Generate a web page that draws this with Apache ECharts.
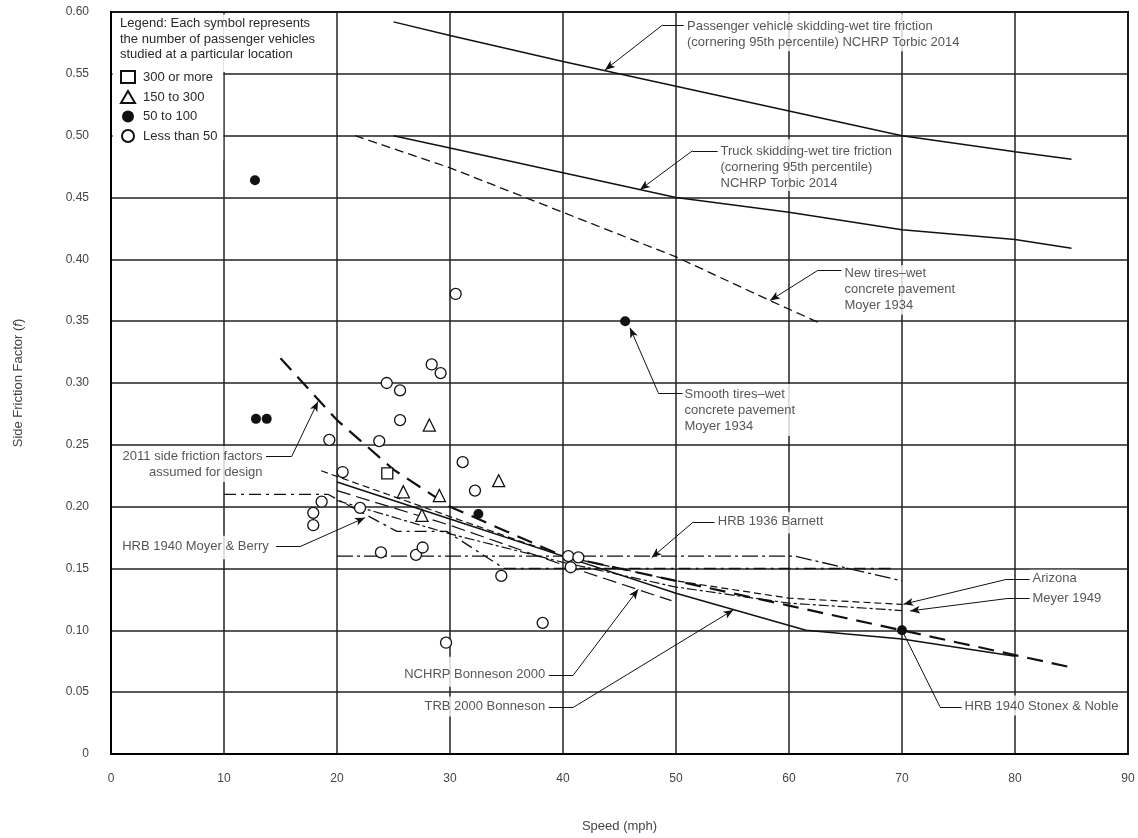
<!DOCTYPE html>
<html><head><meta charset="utf-8">
<script src="https://cdn.jsdelivr.net/npm/echarts@6/dist/echarts.min.js"></script>
<style>html,body{margin:0;padding:0;background:#fff}#c{width:1138px;height:838px}</style>
</head><body><div id="c"></div>
<script>
// ---------------- data (speed mph, side friction factor f) ----------------
const passengerTorbic2014 = [[25,0.592],[30,0.581],[40,0.560],[50,0.540],[60,0.520],[70,0.500],[80,0.487],[85,0.481]];
const truckTorbic2014 = [[25,0.500],[30,0.490],[40,0.470],[50,0.450],[60,0.438],[70,0.424],[80,0.416],[85,0.409]];
const newTiresMoyer1934 = [[21.6,0.500],[30,0.474],[40,0.438],[50,0.402],[58,0.368],[62.6,0.349]];
const design2011 = [[15,0.32],[20,0.27],[25,0.23],[30,0.20],[35,0.18],[40,0.16],[45,0.15],[50,0.14],[55,0.13],[60,0.12],[65,0.11],[70,0.10],[75,0.09],[80,0.08],[85,0.07]];
const trbBonneson2000 = [[20,0.220],[30,0.190],[40,0.160],[50,0.130],[61.5,0.100],[70,0.093],[80,0.079]];
const nchrpBonneson2000 = [[20,0.213],[30,0.185],[40,0.153],[49.6,0.124]];
const arizona = [[18.6,0.229],[30,0.192],[40,0.160],[50,0.140],[60,0.126],[70,0.121]];
const meyer1949 = [[20,0.205],[30,0.178],[40,0.155],[50,0.135],[60,0.122],[70,0.116]];
const moyerBerry1940 = [[10,0.21],[19.2,0.21],[25.3,0.18],[29.7,0.18],[34.8,0.15],[69,0.15]];
const barnett1936 = [[20,0.16],[60.5,0.16],[70,0.14]];

const pts300OrMore = [[24.45,0.227]];
const pts150to300 = [[28.17,0.266],[25.87,0.212],[29.06,0.209],[34.31,0.221],[27.52,0.193]];
const pts50to100 = [[12.74,0.464],[12.83,0.271],[13.78,0.271],[32.51,0.194]];
const ptsLessThan50 = [[30.50,0.372],[28.38,0.315],[29.17,0.308],[24.40,0.300],[25.58,0.294],[25.58,0.270],
  [19.32,0.254],[23.74,0.253],[31.12,0.236],[20.50,0.228],[32.21,0.213],[18.64,0.204],[17.90,0.195],
  [17.90,0.185],[22.04,0.199],[23.89,0.163],[26.99,0.161],[27.58,0.167],[34.54,0.144],[38.20,0.106],
  [29.65,0.090],[40.47,0.160],[41.36,0.159],[40.68,0.151]];
const smoothTiresMoyer1934 = [[45.5,0.350]];
const stonexNoble1940 = [[70,0.100]];

// ---------------- annotations (anchor in data units) ----------------
const annotations = [
  {text:'Passenger vehicle skidding-wet tire friction\n(cornering 95th percentile) NCHRP Torbic 2014', at:[50.71,0.5984], align:'left', pad:[4.7,4,1,3.5]},
  {text:'Truck skidding-wet tire friction\n(cornering 95th percentile)\nNCHRP Torbic 2014', at:[53.72,0.4966], align:'left', pad:[3.7,2,0,3]},
  {text:'New tires\u2013wet\nconcrete pavement\nMoyer 1934', at:[64.69,0.3949], align:'left', pad:[0.5,3,1,3]},
  {text:'Smooth tires\u2013wet\nconcrete pavement\nMoyer 1934', at:[50.62,0.2988], align:'left', pad:[2,3,2,2]},
  {text:'2011 side friction factors\nassumed for design', at:[13.72,0.2487], align:'right', pad:[2,3,2,3]},
  {text:'HRB 1940 Moyer & Berry', at:[0.77,0.1760], align:'left', pad:[2.3,3,5,3]},
  {text:'HRB 1936 Barnett', at:[53.45,0.1954], align:'left', pad:[1.7,3,4,3.3]},
  {text:'Arizona', at:[81.33,0.1486], align:'left', pad:[1,3,1,3]},
  {text:'Meyer 1949', at:[81.33,0.1332], align:'left', pad:[1.3,3,1,3]},
  {text:'HRB 1940 Stonex & Noble', at:[75.31,0.0468], align:'left', pad:[2.7,3,1.3,3]},
  {text:'NCHRP Bonneson 2000', at:[38.73,0.0783], align:'right', pad:[10,3,4,3]},
  {text:'TRB 2000 Bonneson', at:[38.73,0.0460], align:'right', pad:[2.3,3,1.7,3]}
];
const leaders = [
  {pts:[[50.71,0.5895],[48.81,0.5895],[43.72,0.5532]], arrow:true},
  {pts:[[53.72,0.4878],[51.46,0.4878],[46.81,0.4563]], arrow:true},
  {pts:[[64.69,0.3909],[62.52,0.3909],[58.32,0.3667]], arrow:true},
  {pts:[[50.62,0.2921],[48.43,0.2921],[45.93,0.3446]], arrow:true},
  {pts:[[13.72,0.2406],[15.99,0.2406],[18.32,0.2851]], arrow:true},
  {pts:[[14.60,0.1677],[16.73,0.1677],[22.48,0.1911]], arrow:true},
  {pts:[[53.45,0.1876],[51.53,0.1876],[47.85,0.1588]], arrow:true},
  {pts:[[81.33,0.1413],[79.29,0.1413],[70.12,0.1211]], arrow:true},
  {pts:[[81.33,0.1257],[79.29,0.1257],[70.71,0.1157]], arrow:true},
  {pts:[[75.31,0.0382],[73.36,0.0382],[70.0,0.1000]], arrow:false},
  {pts:[[38.73,0.0638],[40.91,0.0638],[46.66,0.1332]], arrow:true},
  {pts:[[38.73,0.0377],[40.91,0.0377],[55.07,0.1165]], arrow:true}
];

// ---------------- chart ----------------
const FONT = '"Liberation Sans", Arial, Helvetica, sans-serif';
const TXT = '#2a2a2a';
const INK = '#111';

function curve(name, data, dash, width) {
  return {name, type:'line', data, symbol:'none', showSymbol:false, silent:true, z:3,
    lineStyle:{color:INK, width:width, type:dash}, emphasis:{disabled:true}};
}
function pts(name, data, symbol, size, filled) {
  return {name, type:'scatter', data, symbol, symbolSize:size, silent:true, z:4,
    itemStyle:{color: filled ? INK : '#fff', borderColor:INK, borderWidth: filled ? 0 : 1.3, opacity:1},
    emphasis:{disabled:true}};
}

const markLineData = [];
leaders.forEach(l => {
  markLineData.push([{coord:l.pts[0], symbol:'none'}, {coord:l.pts[1], symbol:'none'}]);
  markLineData.push([{coord:l.pts[1], symbol:'none'}, {coord:l.pts[2], symbol: l.arrow ? 'arrow' : 'none', symbolSize:[6,10]}]);
});

const annotationSeries = {
  name:'annotations', type:'scatter', z:6, silent:true, symbolSize:1,
  itemStyle:{color:'rgba(0,0,0,0)'},
  data: annotations.map(a => ({
    value:a.at,
    label:{show:true, position:[0,0], align:a.align, verticalAlign:'top', formatter:a.text,
      fontSize:13, lineHeight:16, fontFamily:FONT, color:TXT, backgroundColor:'#fff', padding:a.pad}
  })),
  markLine:{silent:true, animation:false, symbol:['none','none'], label:{show:false},
    lineStyle:{color:INK, width:1, type:'solid'}, emphasis:{disabled:true}, data:markLineData},
  markArea:{silent:true, itemStyle:{color:'#fff', borderWidth:0}, label:{show:false},
    data:[[{coord:[0.15,0.598]},{coord:[9.93,0.48]}],[{coord:[9.93,0.598]},{coord:[19.9,0.5515]}]]}
};

const option = {
  animation:false,
  backgroundColor:'#fff',
  title:{text:'Legend: Each symbol represents\nthe number of passenger vehicles\nstudied at a particular location',
    left:112, top:13, padding:[3,0,0,8],
    textStyle:{fontSize:13, fontWeight:'normal', color:TXT, lineHeight:15.5, fontFamily:FONT}},
  legend:{orient:'vertical', left:120, top:70, itemWidth:14, itemHeight:12, itemGap:6, padding:0,
    selectedMode:false, data:['300 or more','150 to 300','50 to 100','Less than 50'],
    textStyle:{fontSize:13, color:TXT, fontFamily:FONT, padding:[0,0,0,3]}},
  grid:{left:111, top:12, right:10, bottom:83, show:true, borderColor:'#000', borderWidth:2, backgroundColor:'rgba(0,0,0,0)'},
  xAxis:{type:'value', min:0, max:90, interval:10,
    axisLine:{show:true, lineStyle:{color:'#000', width:2}}, axisTick:{show:false},
    axisLabel:{margin:19, fontSize:12, color:'#444', fontFamily:FONT},
    splitLine:{show:true, lineStyle:{color:'#222', width:1.5}},
    name:'Speed (mph)', nameLocation:'middle', nameGap:66,
    nameTextStyle:{fontSize:13, color:'#444', fontFamily:FONT}},
  yAxis:{type:'value', min:0, max:0.6, interval:0.05,
    axisLine:{show:true, lineStyle:{color:'#000', width:2}}, axisTick:{show:false},
    axisLabel:{margin:22, fontSize:12, color:'#444', fontFamily:FONT,
      formatter: v => (Math.abs(v) < 1e-9 ? '0' : v.toFixed(2))},
    splitLine:{show:true, lineStyle:{color:'#222', width:1.5}},
    name:'{n|Side Friction Factor (}{i|f}{n|)}', nameLocation:'middle', nameGap:86,
    nameTextStyle:{rich:{n:{fontSize:13, color:'#444', fontFamily:FONT}, i:{fontSize:13, color:'#444', fontStyle:'italic', fontFamily:FONT}}}},
  series:[
    curve('Passenger Torbic 2014', passengerTorbic2014, 'solid', 1.5),
    curve('Truck Torbic 2014', truckTorbic2014, 'solid', 1.5),
    curve('New tires Moyer 1934', newTiresMoyer1934, [9,5], 1.3),
    curve('2011 design', design2011, [16,9], 2.2),
    curve('TRB 2000 Bonneson', trbBonneson2000, 'solid', 1.5),
    curve('NCHRP Bonneson 2000', nchrpBonneson2000, [14,6], 1.2),
    curve('Arizona', arizona, [7,4], 1.2),
    curve('Meyer 1949', meyer1949, [10,3,3,3], 1.2),
    curve('HRB 1940 Moyer & Berry', moyerBerry1940, [12,5,3,5], 1.3),
    curve('HRB 1936 Barnett', barnett1936, [16,4,3,4], 1.3),
    pts('300 or more', pts300OrMore, 'rect', 11, false),
    pts('150 to 300', pts150to300, 'triangle', 12, false),
    pts('50 to 100', pts50to100, 'circle', 10, true),
    pts('Less than 50', ptsLessThan50, 'circle', 11, false),
    pts('Smooth tires Moyer 1934', smoothTiresMoyer1934, 'circle', 10, true),
    pts('HRB 1940 Stonex & Noble', stonexNoble1940, 'circle', 10, true),
    annotationSeries
  ]
};
const chart = echarts.init(document.getElementById('c'), null, {renderer:'canvas'});
chart.setOption(option);
</script>
</body></html>
